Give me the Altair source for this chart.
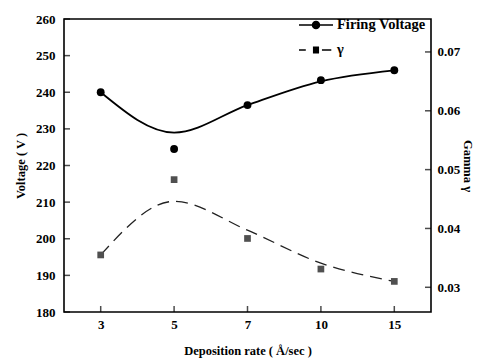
import altair as alt
import pandas as pd

# ---- data ----
rates = ["3", "5", "7", "10", "15"]
voltage = [240.0, 224.5, 236.5, 243.3, 246.0]
voltage_fit = [240.0, 229.0, 236.5, 243.0, 246.0]
gamma = [0.0355, 0.0483, 0.0383, 0.0331, 0.0310]
gamma_fit = [0.0355, 0.0446, 0.0397, 0.0341, 0.0310]
series_names = ["Firing Voltage", "γ"]
left_ticks = [180, 190, 200, 210, 220, 230, 240, 250, 260]
right_ticks = [0.03, 0.04, 0.05, 0.06, 0.07]

df = pd.DataFrame({
    "rate": rates,
    "voltage": voltage,
    "voltage_fit": voltage_fit,
    "gamma": gamma,
    "gamma_fit": gamma_fit,
})
legend_df = pd.DataFrame({"series": series_names, "rate": rates[:2], "voltage": voltage[:2]})
lt_df = pd.DataFrame({"v": left_ticks})
rt_df = pd.DataFrame({"g": right_ticks})

FONT = "Liberation Serif"
W, H = 367, 293
TICK = 6

xenc = alt.X("rate:O", sort=rates,
             scale=alt.Scale(type="point", padding=0.5),
             axis=alt.Axis(title="Deposition rate ( Å/sec )", labelAngle=0,
                           tickSize=0, labelPadding=6, titlePadding=13, domain=False))

yl_scale = alt.Scale(domain=[180, 260], nice=False, zero=False)
yr_scale = alt.Scale(domain=[0.0258, 0.0756], nice=False, zero=False)

yl_axis = alt.Axis(title="Voltage ( V )", values=left_ticks, tickSize=0,
                   labelOverlap=False, labelPadding=9, titlePadding=8,
                   domain=False, grid=False)
yr_axis = alt.Axis(title="Gamma γ", orient="right", values=right_ticks, format=".2f",
                   tickSize=0, labelPadding=6, titlePadding=1, domain=False,
                   labelOverlap=False, grid=False)

base = alt.Chart(df)

v_line = base.mark_line(interpolate="monotone", color="black", strokeWidth=1.8).encode(
    x=xenc,
    y=alt.Y("voltage_fit:Q", scale=yl_scale, axis=yl_axis),
)
v_pts = base.mark_point(shape="circle", filled=True, color="black", size=62, opacity=1).encode(
    x=alt.X("rate:O", sort=rates), y=alt.Y("voltage:Q", axis=yl_axis))

# inward tick marks
x_ticks = base.mark_tick(color="black", thickness=1.5, size=TICK, orient="vertical").encode(
    x=alt.X("rate:O", sort=rates), y=alt.value(H - TICK / 2))
l_ticks = alt.Chart(lt_df).mark_tick(color="black", thickness=1.5, size=TICK,
                                     orient="horizontal").encode(
    y=alt.Y("v:Q", axis=yl_axis), x=alt.value(TICK / 2))

disc = ("M-0.2,0A0.2,0.2 0 1,0 0.2,0A0.2,0.2 0 1,0 -0.2,0Z"
        "M-0.13,0A0.13,0.13 0 1,0 0.13,0A0.13,0.13 0 1,0 -0.13,0Z"
        "M-0.06,0A0.06,0.06 0 1,0 0.06,0A0.06,0.06 0 1,0 -0.06,0Z")
sq = ("M-0.13,-0.15L0.13,-0.15L0.13,0.15L-0.13,0.15Z"
      "M-0.07,-0.09L0.07,-0.09L0.07,0.09L-0.07,0.09Z"
      "M-0.02,-0.03L0.02,-0.03L0.02,0.03L-0.02,0.03Z")
path_v = "M-1,0L-0.2,0M0.2,0L1,0" + disc
path_g = "M-1,0L-0.6,0M0.35,0L0.9,0" + sq

leg = alt.Chart(legend_df).mark_point(filled=False, color="black",
                                      strokeWidth=1.8, opacity=0, size=10).encode(
    x=alt.X("rate:O", sort=rates),
    y=alt.Y("voltage:Q", axis=yl_axis),
    shape=alt.Shape("series:N",
                    scale=alt.Scale(domain=series_names, range=[path_v, path_g]),
                    legend=alt.Legend(title=None, orient="none", legendX=234, legendY=-12,
                                      symbolSize=1156, symbolOpacity=1,
                                      symbolStrokeWidth=1.7,
                                      symbolStrokeColor="black",
                                      labelFont=FONT, labelFontSize=14.5,
                                      labelFontWeight="bold", labelColor="black",
                                      rowPadding=-15, labelOffset=3, padding=0)),
)

left_layer = alt.layer(v_line, v_pts, x_ticks, l_ticks, leg)

g_line = base.mark_line(interpolate="monotone", color="#222", strokeWidth=1.3,
                        strokeDash=[12, 7]).encode(
    x=alt.X("rate:O", sort=rates),
    y=alt.Y("gamma_fit:Q", scale=yr_scale, axis=yr_axis),
)
g_pts = base.mark_point(shape="square", filled=True, color="#505050", size=45, opacity=1).encode(
    x=alt.X("rate:O", sort=rates), y=alt.Y("gamma:Q", axis=yr_axis))
r_ticks = alt.Chart(rt_df).mark_tick(color="black", thickness=1.5, size=TICK,
                                     orient="horizontal").encode(
    y=alt.Y("g:Q", axis=yr_axis), x=alt.value(W - TICK / 2))

right_layer = alt.layer(g_line, g_pts, r_ticks)

chart = alt.layer(left_layer, right_layer).resolve_scale(y="independent").properties(
    width=W, height=H,
    autosize=alt.AutoSizeParams(type="none"),
    padding={"left": 56, "top": 11, "right": 44, "bottom": 46},
).configure_view(stroke="black", strokeWidth=1.6).configure_axis(
    labelFont=FONT, labelFontSize=13, labelFontWeight="bold", labelColor="black",
    titleFont=FONT, titleFontSize=12.5, titleFontWeight="bold", titleColor="black",
)

chart.save("out.html", embed_options={"renderer": "svg", "actions": False})
